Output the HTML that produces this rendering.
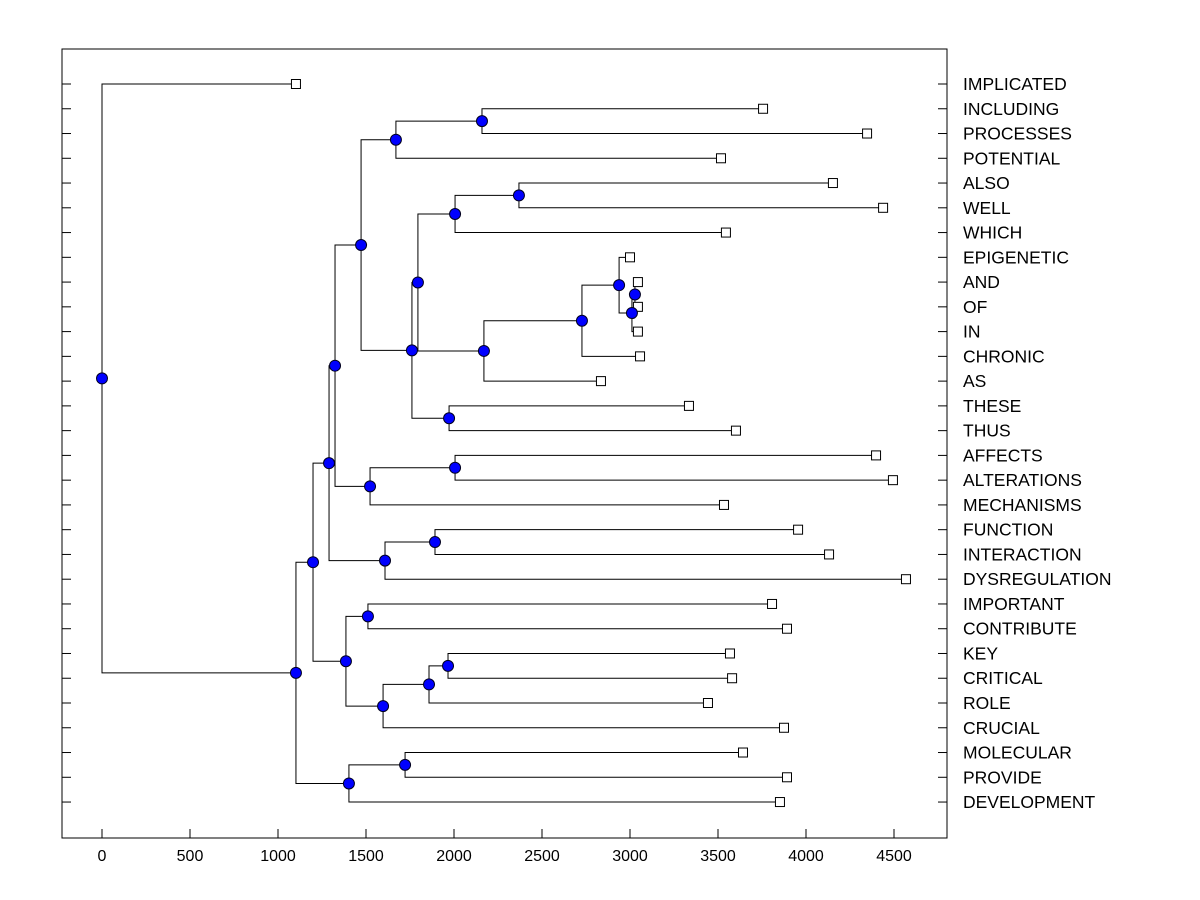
<!DOCTYPE html>
<html><head><meta charset="utf-8"><style>
html,body{margin:0;padding:0;background:#fff;}
svg{display:block;font-family:"Liberation Sans",Arial,sans-serif;}
</style></head><body>
<svg id="chart" width="1200" height="900" viewBox="0 0 1200 900">
<rect x="0" y="0" width="1200" height="900" fill="#fff"/>
<g id="axes"></g>
<g id="links"></g>
<g id="marks"></g>
</svg>
<script>
const labels = ["IMPLICATED","INCLUDING","PROCESSES","POTENTIAL","ALSO","WELL","WHICH","EPIGENETIC","AND","OF","IN","CHRONIC","AS","THESE","THUS","AFFECTS","ALTERATIONS","MECHANISMS","FUNCTION","INTERACTION","DYSREGULATION","IMPORTANT","CONTRIBUTE","KEY","CRITICAL","ROLE","CRUCIAL","MOLECULAR","PROVIDE","DEVELOPMENT"];
const leafValues = [1102,3756,4347,3517,4153,4438,3545,3000,3045,3045,3045,3057,2835,3335,3602,4398,4494,3534,3955,4131,4568,3807,3892,3568,3580,3443,3875,3642,3892,3852];
const xTicks = [0,500,1000,1500,2000,2500,3000,3500,4000,4500];
// merges: [childA, childB, height]; numbers = leaf index, "nK" = k-th merge
const M = [
 [1,2,2159],
 ["n0",3,1670],
 [4,5,2369],
 ["n2",6,2006],
 [8,9,3028],
 ["n4",10,3011],
 [7,"n5",2938],
 ["n6",11,2727],
 ["n7",12,2170],
 ["n3","n8",1795],
 [13,14,1972],
 ["n9","n10",1761],
 ["n1","n11",1472],
 [15,16,2006],
 ["n13",17,1523],
 ["n12","n14",1324],
 [18,19,1892],
 ["n16",20,1608],
 ["n15","n17",1290],
 [21,22,1511],
 [23,24,1966],
 ["n20",25,1858],
 ["n21",26,1597],
 ["n19","n22",1386],
 ["n18","n23",1199],
 [27,28,1722],
 ["n25",29,1403],
 ["n24","n26",1102],
 [0,"n27",0]
];
</script>
<script>
const NS="http://www.w3.org/2000/svg";
const L=62,R=947,T=49,B=838;
const xs=v=>102+v*0.176;
const ys=i=>84+i*24.76;
function mk(tag,attrs,parent){const e=document.createElementNS(NS,tag);for(const k in attrs)e.setAttribute(k,attrs[k]);parent.appendChild(e);return e;}
const axes=document.getElementById('axes'),links=document.getElementById('links'),marks=document.getElementById('marks');
let f=mk('rect',{x:L,y:T,width:R-L,height:B-T,fill:'none',stroke:'#000','stroke-width':1},axes);


xTicks.forEach(t=>{
 const x=xs(t);
 let l=mk('line',{x1:x,y1:B,x2:x,y2:B-9,stroke:'#000'},axes);
 
 
 let tx=mk('text',{x:x,y:861,'text-anchor':'middle','font-size':'16px',fill:'#000'},axes);
 tx.textContent=t;
 
 
});
labels.forEach((lab,i)=>{
 const y=ys(i);
 let a=mk('line',{x1:L,y1:y,x2:L+9,y2:y,stroke:'#000'},axes);
 
 
 let b=mk('line',{x1:R-9,y1:y,x2:R,y2:y,stroke:'#000'},axes);
 
 
 let t=mk('text',{x:963,y:y+6,'font-size':'17.5px',fill:'#000'},axes);
 t.textContent=lab;
 
 
});
const pos={};
function get(c){ if(typeof c==='number') return {x:xs(leafValues[c]),y:ys(c)}; return pos[c]; }
const dots=[];
M.forEach((m,k)=>{
 const a=get(m[0]),b=get(m[1]),px=xs(m[2]);
 const py=(a.y+b.y)/2;
 pos['n'+k]={x:px,y:py};
 let p=mk('path',{d:`M${a.x},${a.y}H${px}V${b.y}H${b.x}`,fill:'none',stroke:'#000','stroke-width':1},links);
 
 
 dots.push([px,py]);
});
leafValues.forEach((v,i)=>{
 let s=mk('rect',{x:xs(v)-4.5,y:ys(i)-4.5,width:9,height:9,fill:'#fff',stroke:'#000'},marks);
 
 
});
dots.forEach(d=>{
 let c=mk('circle',{cx:d[0],cy:d[1],r:5.5,fill:'#0000ff',stroke:'#000020','stroke-width':1},marks);
 
 
});
</script>
</body></html>
